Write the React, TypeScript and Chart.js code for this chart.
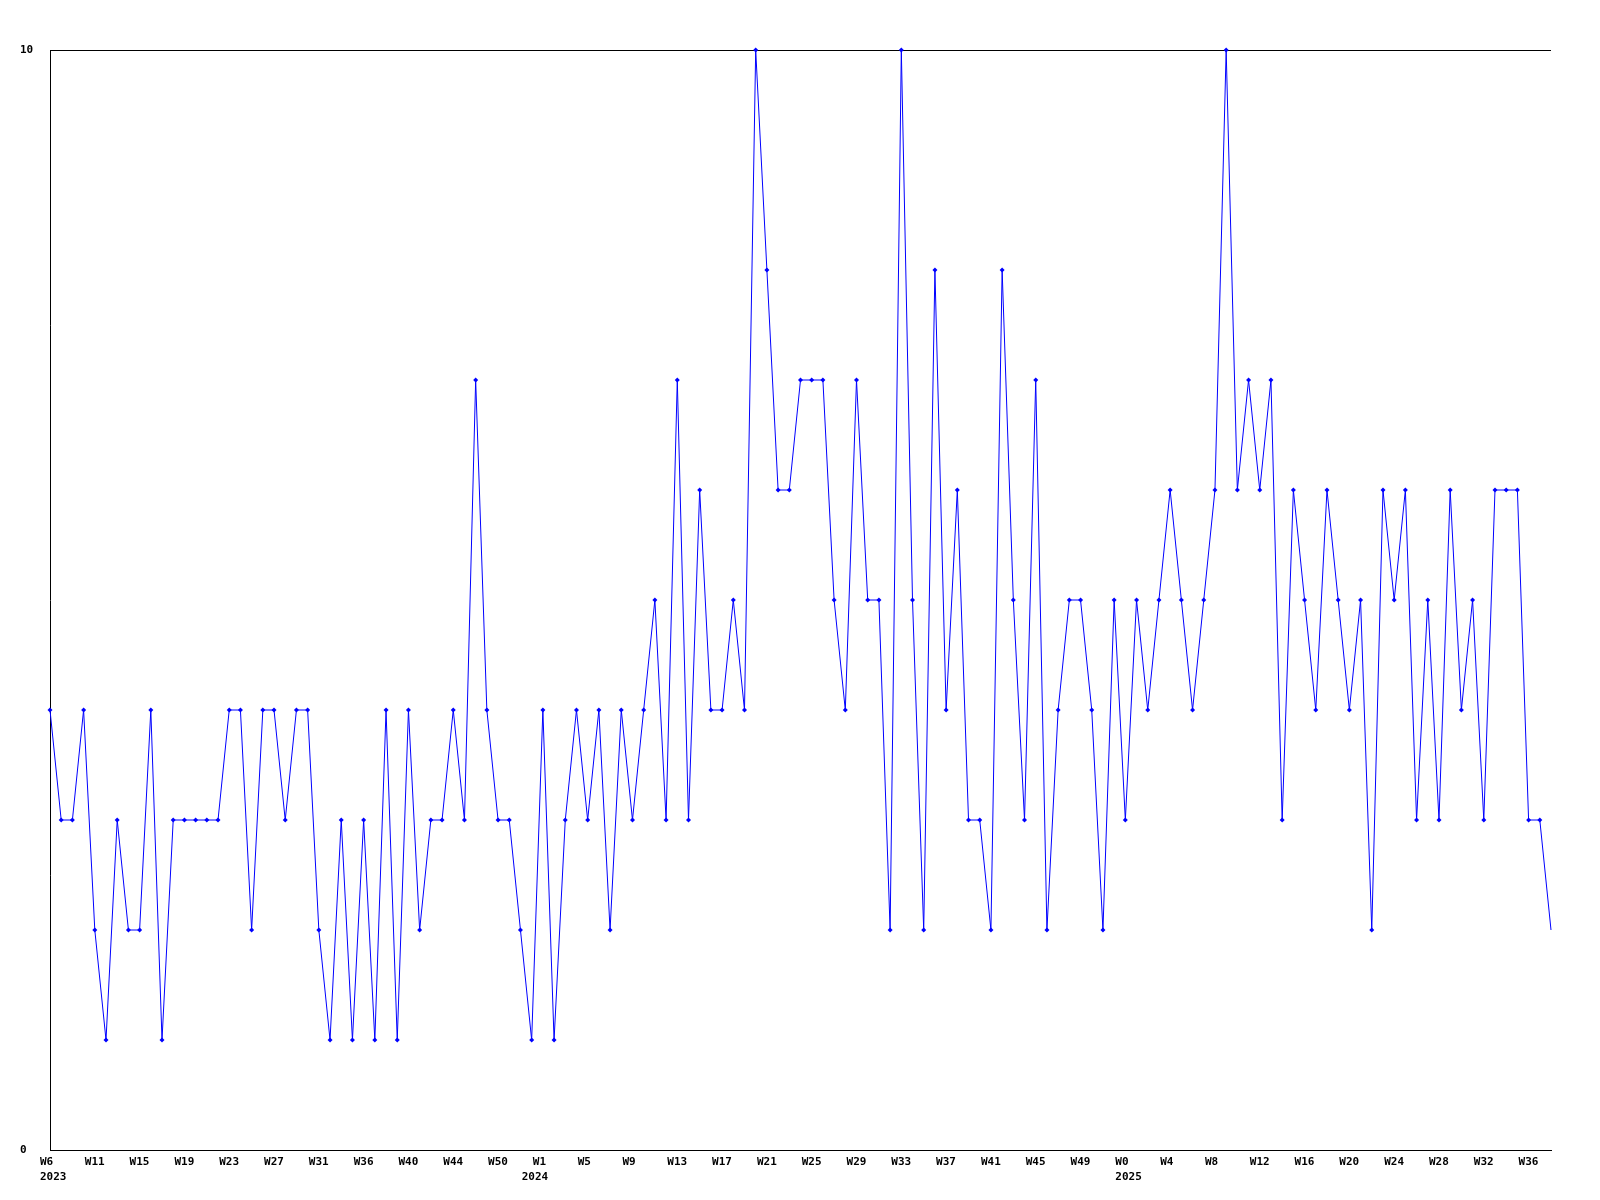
import React, { useEffect, useRef } from "react";
import { Chart, registerables } from "chart.js";

Chart.register(...registerables);

// Weekly values, one per week starting at 2023 W6
const values: number[] = [
  4, 3, 3, 4, 2, 1, 3, 2, 2, 4,
  1, 3, 3, 3, 3, 3, 4, 4, 2, 4,
  4, 3, 4, 4, 2, 1, 3, 1, 3, 1,
  4, 1, 4, 2, 3, 3, 4, 3, 7, 4,
  3, 3, 2, 1, 4, 1, 3, 4, 3, 4,
  2, 4, 3, 4, 5, 3, 7, 3, 6, 4,
  4, 5, 4, 10, 8, 6, 6, 7, 7, 7,
  5, 4, 7, 5, 5, 2, 10, 5, 2, 8,
  4, 6, 3, 3, 2, 8, 5, 3, 7, 2,
  4, 5, 5, 4, 2, 5, 3, 5, 4, 5,
  6, 5, 4, 5, 6, 10, 6, 7, 6, 7,
  3, 6, 5, 4, 6, 5, 4, 5, 2, 6,
  5, 6, 3, 5, 3, 6, 4, 5, 3, 6,
  6, 6, 3, 3, 2,
];

// Week tick labels, one every `weekTickStep` data points
const weekLabels: string[] = [
  "W6", "W11", "W15", "W19", "W23", "W27", "W31", "W36", "W40", "W44", "W50",
  "W1", "W5", "W9", "W13", "W17", "W21", "W25", "W29", "W33", "W37", "W41", "W45", "W49",
  "W0", "W4", "W8", "W12", "W16", "W20", "W24", "W28", "W32", "W36",
];
const weekTickStep = 4;

// Year labels and the data index where each is printed
const yearLabels: string[] = ["2023", "2024", "2025"];
const yearTickIdx: number[] = [0, 43, 96];

const yTickValues: number[] = [0, 10];

export default function App() {
  const ref = useRef<HTMLCanvasElement | null>(null);

  useEffect(() => {
    if (!ref.current) return;

    const labelMap = new Map<number, string[]>();
    weekLabels.forEach((w, i) => {
      labelMap.set(i * weekTickStep, [w]);
    });
    yearLabels.forEach((y, i) => {
      const idx = yearTickIdx[i];
      const existing = labelMap.get(idx);
      if (existing) labelMap.set(idx, [existing[0], y]);
      else labelMap.set(idx, ["", y]);
    });
    const tickValues = Array.from(labelMap.keys()).sort((a, b) => a - b);

    const font = { family: "'DejaVu Sans Mono', monospace", size: 11, weight: "bold" as const, lineHeight: 15.5 / 11 };
    const last = values.length - 1;

    const chart = new Chart(ref.current, {
      type: "line",
      data: {
        datasets: [
          {
            data: values.map((v, i) => ({ x: i, y: v })),
            borderColor: "#0000ff",
            backgroundColor: "#0000ff",
            borderWidth: 1,
            tension: 0,
            fill: false,
            clip: false,
            pointStyle: "rectRot",
            pointRadius: (c: any) => (c.dataIndex === last ? 0 : 2.5),
            pointBorderWidth: 0,
            pointBackgroundColor: "#0000ff",
          },
        ],
      },
      options: {
        animation: false,
        responsive: true,
        maintainAspectRatio: false,
        layout: { padding: { left: 20, top: 50, right: 49, bottom: 0 } },
        plugins: { legend: { display: false }, tooltip: { enabled: false } },
        scales: {
          x: {
            type: "linear",
            min: 0,
            max: last,
            afterBuildTicks: (scale: any) => {
              scale.ticks = tickValues.map((v) => ({ value: v }));
            },
            afterFit: (scale: any) => {
              scale.height = 50;
            },
            grid: { display: false, drawTicks: false },
            border: { display: true, color: "#000000", width: 1 },
            ticks: {
              autoSkip: false,
              maxRotation: 0,
              minRotation: 0,
              align: "start",
              labelOffset: -10,
              padding: 4,
              color: "#000000",
              font,
              callback: (value: any) => labelMap.get(Number(value)) ?? "",
            },
          },
          y: {
            type: "linear",
            min: 0,
            max: 10,
            afterBuildTicks: (scale: any) => {
              scale.ticks = yTickValues.map((v) => ({ value: v }));
            },
            afterFit: (scale: any) => {
              scale.width = 30;
            },
            grid: { display: true, color: "#000000", lineWidth: 1, drawTicks: false },
            border: { display: true, color: "#000000", width: 1 },
            ticks: {
              crossAlign: "far",
              color: "#000000",
              font: { family: "'DejaVu Sans Mono', monospace", size: 11, weight: "bold" as const },
              callback: (value: any) => String(value),
            },
          },
        },
      },
    } as any);

    return () => chart.destroy();
  }, []);

  return (
    <div style={{ position: "fixed", left: 0, top: 0, width: 1600, height: 1200, background: "#ffffff" }}>
      <canvas ref={ref} />
    </div>
  );
}
